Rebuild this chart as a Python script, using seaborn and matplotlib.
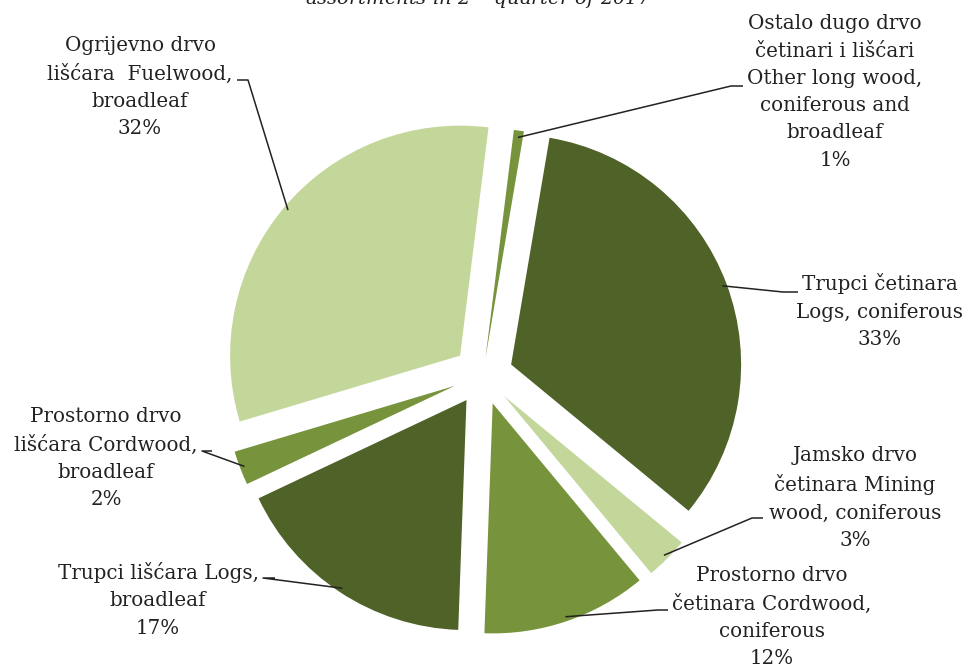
import numpy as np
import matplotlib
matplotlib.use("Agg")
import matplotlib.pyplot as plt
import seaborn as sns

sns.set_style("white")
plt.rcParams['font.family'] = ['DejaVu Serif']
plt.rcParams['mathtext.fontset'] = 'dejavuserif'

# data, clockwise from the top (shares in %)
labels = [
    "Ostalo dugo drvo\nčetinari i lišćari\nOther long wood,\nconiferous and\nbroadleaf",
    "Trupci četinara\nLogs, coniferous",
    "Jamsko drvo\nčetinara Mining\nwood, coniferous",
    "Prostorno drvo\nčetinara Cordwood,\nconiferous",
    "Trupci lišćara Logs,\nbroadleaf",
    "Prostorno drvo\nlišćara Cordwood,\nbroadleaf",
    "Ogrijevno drvo\nlišćara  Fuelwood,\nbroadleaf",
]
shares = [0.7, 33.3, 3.0, 11.6, 17.4, 2.4, 31.6]
colors = ["#77933C", "#4F6228", "#C4D79B", "#77933C", "#4F6228", "#77933C", "#C4D79B"]

W, H = 971, 671
fig = plt.figure(figsize=(W / 100, H / 100), dpi=100)
ax = fig.add_axes([0, 0, 1, 1])

R = 230
wedges, _ = ax.pie(
    shares, colors=colors, radius=R, center=(483, H - 375),
    startangle=82.9, counterclock=False, explode=[17, 30, 30, 30, 30, 30, 30],
    wedgeprops=dict(linewidth=0), frame=True,
)
ax.set_xlim(0, W)
ax.set_ylim(0, H)
ax.set_aspect('equal')
ax.axis('off')

# label block centre (image px) and leader elbow points (image px)
label_pos = [(835, 92), (880, 311), (855, 498), (772, 617), (158, 600), (106, 458), (140, 87)]
elbows = [
    [(743, 86), (731, 86)],
    [(798, 292), (783, 292)],
    [(763, 518), (752, 518)],
    [(668, 610), (658, 610)],
    [(275, 578), (263, 578)],
    [(212, 451), (202, 451)],
    [(237, 80), (248, 80)],
]
leader_r = [0.97, 0.98, 0.98, 0.98, 0.98, 0.98, 0.98]

for w, lab, s, (lx, ly), el, lr in zip(wedges, labels, shares, label_pos, elbows, leader_r):
    mid = np.deg2rad((w.theta1 + w.theta2) / 2)
    cx, cy = w.center
    px = cx + lr * R * np.cos(mid)
    py = cy + lr * R * np.sin(mid)
    xs = [el[0][0], el[1][0], px]
    ys = [H - el[0][1], H - el[1][1], py]
    ax.plot(xs, ys, color="#222222", lw=1.1, solid_capstyle='butt')
    ax.text(lx, H - ly, f"{lab}\n{round(s):.0f}%", ha='center', va='center',
            fontsize=14.3, color="#222222", linespacing=1.55)

ax.text(478, H + 2, r"assortments in 2$^{nd}$ quarter of 2017", ha='center', va='center',
        fontsize=14, style='italic', color="#222222")

fig.savefig("out.png", dpi=100)
